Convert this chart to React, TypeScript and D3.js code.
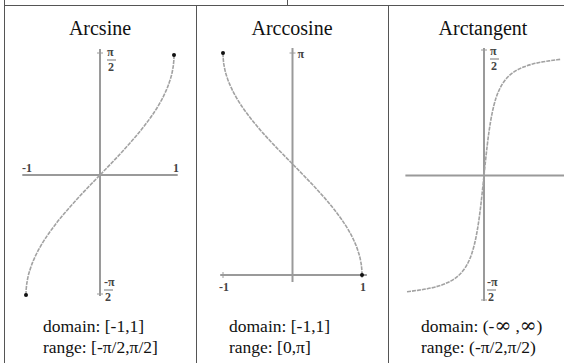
import React from 'react';
import { scaleLinear, line, curveMonotoneX } from 'd3';

const titles = ['Arcsine', 'Arccosine', 'Arctangent'];
const domainLabels = [['domain: [-1,1]'], ['domain: [-1,1]'], ['domain: (-', '\u221E', ' ,', '\u221E', ')']];
const rangeLabels = ['range: [-\u03C0/2,\u03C0/2]', 'range: [0,\u03C0]', 'range: (-\u03C0/2,\u03C0/2)'];

// samples
const sineX = [-1, -0.999, -0.995, -0.98, -0.94, -0.88, -0.8, -0.7, -0.6, -0.5, -0.4, -0.3, -0.2, -0.1, 0, 0.1, 0.2, 0.3, 0.4, 0.5, 0.6, 0.7, 0.8, 0.88, 0.94, 0.98, 0.995, 0.999, 1];
const sineY = [-1.571, -1.526, -1.471, -1.371, -1.223, -1.076, -0.927, -0.775, -0.644, -0.524, -0.412, -0.305, -0.201, -0.1, 0, 0.1, 0.201, 0.305, 0.412, 0.524, 0.644, 0.775, 0.927, 1.076, 1.223, 1.371, 1.471, 1.526, 1.571];

const cosineX = [-1, -0.999, -0.995, -0.98, -0.94, -0.88, -0.8, -0.7, -0.6, -0.5, -0.4, -0.3, -0.2, -0.1, 0, 0.1, 0.2, 0.3, 0.4, 0.5, 0.6, 0.7, 0.8, 0.88, 0.94, 0.98, 0.995, 0.999, 1];
const cosineY = [3.142, 3.097, 3.042, 2.941, 2.793, 2.647, 2.498, 2.346, 2.214, 2.094, 1.982, 1.875, 1.772, 1.671, 1.571, 1.471, 1.369, 1.266, 1.159, 1.047, 0.927, 0.795, 0.644, 0.495, 0.348, 0.2, 0.1, 0.045, 0];

const tangentX = [-9.5, -9, -8, -7, -6, -5, -4, -3, -2.5, -2, -1.5, -1.2, -1, -0.8, -0.6, -0.4, -0.2, 0, 0.2, 0.4, 0.6, 0.8, 1, 1.2, 1.5, 2, 2.5, 3, 4, 5, 6, 7, 8, 9, 9.5];
const tangentY = [-1.466, -1.460, -1.446, -1.429, -1.406, -1.373, -1.326, -1.249, -1.19, -1.107, -0.983, -0.876, -0.785, -0.675, -0.54, -0.381, -0.197, 0, 0.197, 0.381, 0.54, 0.675, 0.785, 0.876, 0.983, 1.107, 1.19, 1.249, 1.326, 1.373, 1.406, 1.429, 1.446, 1.460, 1.466];

const HALF_PI = Math.PI / 2;
const serif = "'Liberation Serif', 'Times New Roman', Times, serif";
const axisColor = '#9a9a9a';
const curveColor = '#a2a2a2';
const border = '#555';

function zip(xs: number[], ys: number[]): [number, number][] {
  return xs.map((x, i) => [x, ys[i]]);
}

function Frac({ x, y, num, den }: { x: number; y: number; num: string; den: string }) {
  return (
    <g style={{ fontFamily: serif }} fontSize={12} fontWeight="bold" fill="#444">
      <text x={x} y={y + 8}>{num}</text>
      <line x1={x} x2={x + 9} y1={y + 12} y2={y + 12} stroke="#777" strokeWidth={1} />
      <text x={x + 1} y={y + 23}>{den}</text>
    </g>
  );
}

function Curve({ pts, x, y }: { pts: [number, number][]; x: any; y: any }) {
  const gen = line<[number, number]>().x(d => x(d[0])).y(d => y(d[1])).curve(curveMonotoneX);
  return <path d={gen(pts) || ''} fill="none" stroke={curveColor} strokeWidth={1.6} strokeDasharray="4,1" />;
}

function Texts({ i, cx, tx }: { i: number; cx: number; tx: number }) {
  return (
    <g style={{ fontFamily: serif }} fill="#111">
      <text x={cx} y={35} fontSize={20} textAnchor="middle">{titles[i]}</text>
      <text x={tx} y={332} fontSize={17.5}>
        {domainLabels[i].map((s, k) =>
          s === '\u221E'
            ? <tspan key={k} style={{ fontFamily: "'DejaVu Serif', serif" }} fontSize={20}>{s}</tspan>
            : <tspan key={k}>{s}</tspan>
        )}
      </text>
      <text x={tx} y={353} fontSize={17.5}>{rangeLabels[i]}</text>
    </g>
  );
}

function Arcsine() {
  const x = scaleLinear().domain([-1, 1]).range([26, 174]);
  const y = scaleLinear().domain([-HALF_PI, HALF_PI]).range([295, 55]);
  const ends = [[sineX[0], sineY[0]], [sineX[sineX.length - 1], sineY[sineY.length - 1]]];
  return (
    <g>
      <Texts i={0} cx={100} tx={43} />
      <line x1={x(-1.05)} x2={x(1.05)} y1={y(0)} y2={y(0)} stroke={axisColor} strokeWidth={2} />
      <line x1={x(0)} x2={x(0)} y1={y(HALF_PI) - 6} y2={y(-HALF_PI) + 1} stroke={axisColor} strokeWidth={2} />
      <line x1={x(0) - 3} x2={x(0) + 3} y1={y(HALF_PI) - 2} y2={y(HALF_PI) - 2} stroke={axisColor} />
      <line x1={x(0) - 3} x2={x(0) + 3} y1={y(-HALF_PI) - 1} y2={y(-HALF_PI) - 1} stroke={axisColor} />
      <Curve pts={zip(sineX, sineY)} x={x} y={y} />
      {ends.map((d, k) => <circle key={k} cx={x(d[0])} cy={y(d[1])} r={2} fill="#111" />)}
      <g style={{ fontFamily: serif }} fontSize={12} fontWeight="bold" fill="#444">
        <text x={x(-1) - 4} y={y(0) - 3}>-1</text>
        <text x={x(1) - 1} y={y(0) - 3}>1</text>
      </g>
      <Frac x={x(0) + 7} y={y(HALF_PI) - 7} num={'\u03C0'} den="2" />
      <Frac x={x(0) + 4} y={y(-HALF_PI) - 17} num={'-\u03C0'} den="2" />
    </g>
  );
}

function Arccosine() {
  const x = scaleLinear().domain([-1, 1]).range([223, 362]);
  const y = scaleLinear().domain([0, Math.PI]).range([275, 53]);
  const ends = [[cosineX[0], cosineY[0]], [cosineX[cosineX.length - 1], cosineY[cosineY.length - 1]]];
  return (
    <g>
      <Texts i={1} cx={292} tx={229} />
      <line x1={x(-1.04)} x2={x(1.07)} y1={y(0)} y2={y(0)} stroke={axisColor} strokeWidth={2} />
      <line x1={x(0)} x2={x(0)} y1={y(Math.PI) - 5} y2={y(0) + 7} stroke={axisColor} strokeWidth={2} />
      <line x1={x(0) - 3} x2={x(0) + 3} y1={y(Math.PI)} y2={y(Math.PI)} stroke={axisColor} />
      <line x1={x(-1)} x2={x(-1)} y1={y(0) - 3} y2={y(0) + 3} stroke={axisColor} />
      <line x1={x(1)} x2={x(1)} y1={y(0) - 3} y2={y(0) + 3} stroke={axisColor} />
      <Curve pts={zip(cosineX, cosineY)} x={x} y={y} />
      {ends.map((d, k) => <circle key={k} cx={x(d[0])} cy={y(d[1])} r={2} fill="#111" />)}
      <g style={{ fontFamily: serif }} fontSize={12} fontWeight="bold" fill="#444">
        <text x={x(-1) - 4} y={y(0) + 16}>-1</text>
        <text x={x(1) - 2} y={y(0) + 16}>1</text>
        <text x={x(0) + 5} y={y(Math.PI) + 5}>{'\u03C0'}</text>
      </g>
    </g>
  );
}

function Arctangent() {
  const x = scaleLinear().domain([-9.5, 9.5]).range([407, 561]);
  const y = scaleLinear().domain([-HALF_PI, HALF_PI]).range([300, 51]);
  return (
    <g>
      <Texts i={2} cx={483} tx={421} />
      <line x1={x(-9.7)} x2={x(10.2)} y1={y(0)} y2={y(0)} stroke={axisColor} strokeWidth={2} />
      <line x1={x(0)} x2={x(0)} y1={y(HALF_PI) - 3} y2={y(-HALF_PI) + 1} stroke={axisColor} strokeWidth={2} />
      <line x1={x(0) - 3} x2={x(0) + 3} y1={y(HALF_PI) - 1} y2={y(HALF_PI) - 1} stroke={axisColor} />
      <line x1={x(0) - 3} x2={x(0) + 3} y1={y(-HALF_PI)} y2={y(-HALF_PI)} stroke={axisColor} />
      <Curve pts={zip(tangentX, tangentY)} x={x} y={y} />
      <Frac x={x(0) + 6} y={y(HALF_PI) - 4} num={'\u03C0'} den="2" />
      <Frac x={x(0) + 3} y={y(-HALF_PI) - 22} num={'-\u03C0'} den="2" />
    </g>
  );
}

export default function App() {
  return (
    <svg width={564} height={363} style={{ position: 'absolute', left: 0, top: 0, background: '#fff' }}>
      <rect width={564} height={363} fill="#fff" />
      <g stroke={border} strokeWidth={1} shapeRendering="crispEdges">
        <line x1={4} x2={564} y1={5.5} y2={5.5} />
        <line x1={4.5} x2={4.5} y1={0} y2={363} />
        <line x1={287.5} x2={287.5} y1={0} y2={5} />
        <line x1={196.5} x2={196.5} y1={5} y2={363} />
        <line x1={388.5} x2={388.5} y1={5} y2={363} />
      </g>
      <Arcsine />
      <Arccosine />
      <Arctangent />
    </svg>
  );
}
